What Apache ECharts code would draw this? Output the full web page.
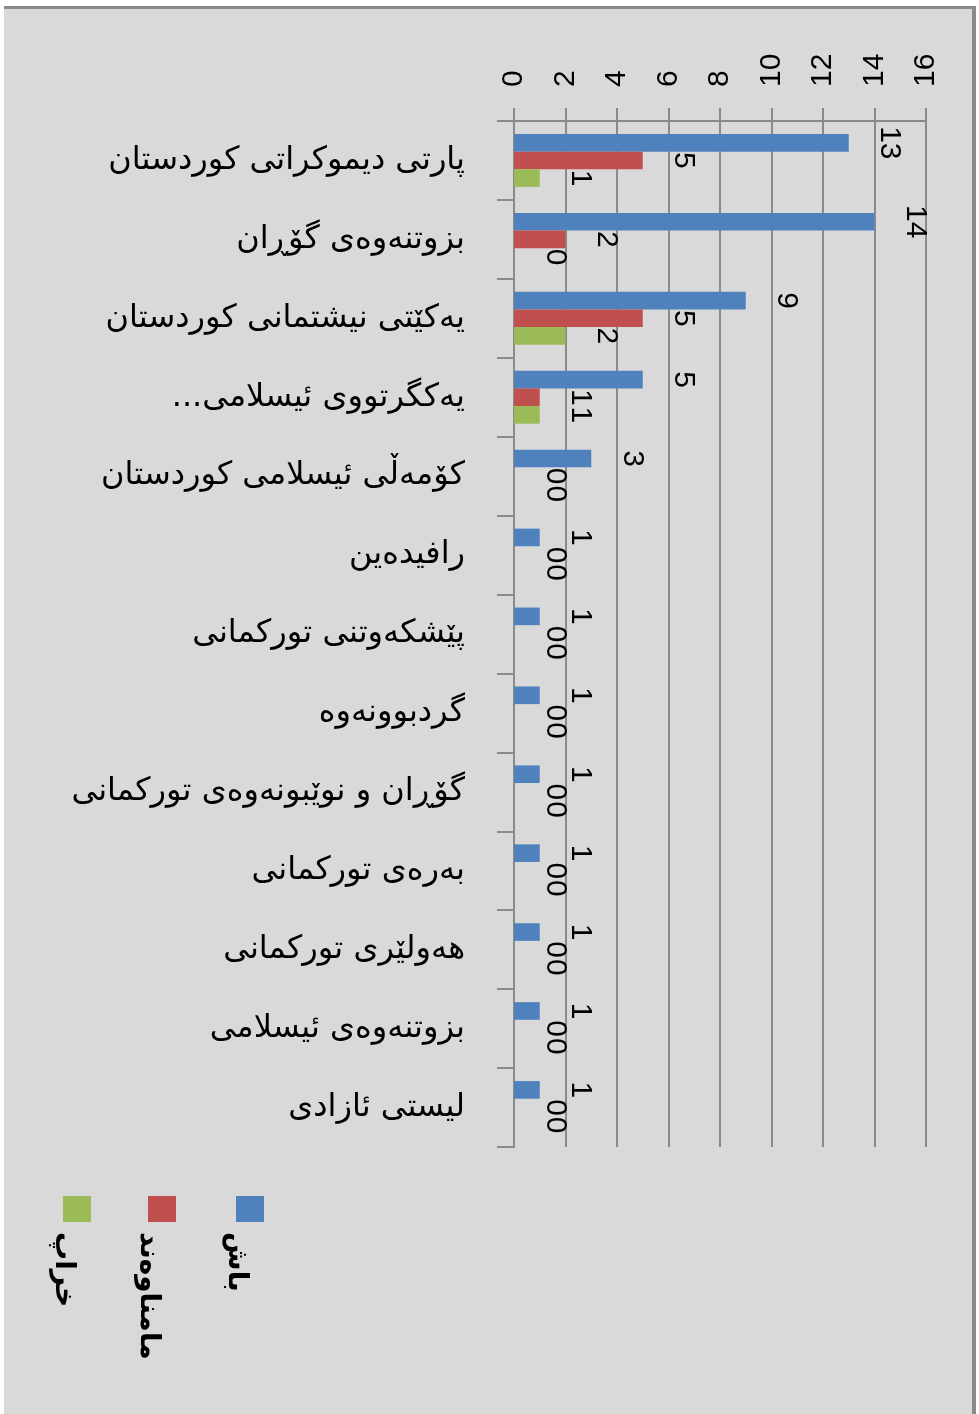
<!DOCTYPE html>
<html>
<head>
<meta charset="utf-8">
<script src="https://cdn.jsdelivr.net/npm/echarts@6/dist/echarts.min.js"></script>
<style>
html,body{margin:0;padding:0;background:#ffffff;}
#frame{position:absolute;left:4px;top:6px;width:968px;height:1408px;background:#d9d9d9;border-top:3px solid #8a8a8a;border-right:4px solid #8a8a8a;}
#chart{position:absolute;left:0;top:0;width:979px;height:1414px;}
</style>
</head>
<body>
<div id="frame"></div>
<div id="chart" dir="rtl"></div>
<script>
var categories = [
  'پارتی دیموکراتی کوردستان',
  'بزوتنەوەی گۆڕان',
  'یەکێتی نیشتمانی کوردستان',
  'یەکگرتووی ئیسلامی...',
  'کۆمەڵی ئیسلامی کوردستان',
  'رافیدەین',
  'پێشکەوتنی تورکمانی',
  'گردبوونەوە',
  'گۆڕان و نوێبونەوەی تورکمانی',
  'بەرەی تورکمانی',
  'هەولێری تورکمانی',
  'بزوتنەوەی ئیسلامی',
  'لیستی ئازادی'
];
var seriesNames = ['باش', 'مامناوەند', 'خراپ'];
var seriesColors = ['#4f81bd', '#c0504d', '#9bbb59'];
var goodValues   = [13, 14, 9, 5, 3, 1, 1, 1, 1, 1, 1, 1, 1];
var mediumValues = [5, 2, 5, 1, 0, 0, 0, 0, 0, 0, 0, 0, 0];
var badValues    = [1, 0, 2, 1, 0, 0, 0, 0, 0, 0, 0, 0, 0];
var valueTicks = { min: 0, max: 16, interval: 2 };

var seriesValues = [goodValues, mediumValues, badValues];
var numFont = 'Liberation Sans, Arial, sans-serif';
var kuFont = 'DejaVu Sans, sans-serif';

var chart = echarts.init(document.getElementById('chart'), null, {renderer: 'canvas'});

var series = seriesValues.map(function (vals, i) {
  return {
    name: seriesNames[i],
    type: 'bar',
    data: vals,
    barGap: '0%',
    barCategoryGap: '33%',
    itemStyle: { color: seriesColors[i] },
    label: {
      show: true,
      position: 'right',
      rotate: -90,
      align: 'center',
      verticalAlign: 'bottom',
      distance: 26,
      color: '#000',
      fontFamily: numFont,
      fontSize: 30
    },
    silent: true
  };
});

var legendGraphics = [];
var legendX = [250, 162, 77];
seriesNames.forEach(function (name, i) {
  legendGraphics.push({
    type: 'rect',
    shape: { x: legendX[i] - 14, y: 1196, width: 28, height: 26 },
    style: { fill: seriesColors[i] }
  });
  legendGraphics.push({
    type: 'text',
    x: legendX[i] - 14,
    y: 1232,
    rotation: -Math.PI / 2,
    style: {
      text: name,
      align: 'left',
      verticalAlign: 'middle',
      fill: '#000',
      font: 'bold 28px ' + kuFont
    }
  });
});

chart.setOption({
  backgroundColor: 'transparent',
  animation: false,
  grid: { left: 514, right: 53, top: 121, bottom: 267, containLabel: false },
  xAxis: {
    type: 'value',
    position: 'top',
    min: valueTicks.min,
    max: valueTicks.max,
    interval: valueTicks.interval,
    axisLine: { show: true, lineStyle: { color: '#8a8a8a', width: 2 } },
    axisTick: { show: true, length: 13, lineStyle: { color: '#8a8a8a', width: 2 } },
    splitLine: { show: true, lineStyle: { color: '#8a8a8a', width: 2 } },
    axisLabel: {
      rotate: -90,
      margin: 34,
      color: '#000',
      fontFamily: numFont,
      fontSize: 30
    }
  },
  yAxis: {
    type: 'category',
    inverse: true,
    data: categories,
    axisLine: { show: true, lineStyle: { color: '#8a8a8a', width: 2 } },
    axisTick: { show: true, length: 17, lineStyle: { color: '#8a8a8a', width: 2 } },
    axisLabel: {
      margin: 49,
      color: '#000',
      fontFamily: kuFont,
      fontSize: 32,
      interval: 0
    }
  },
  series: series,
  graphic: legendGraphics
});
</script>
</body>
</html>
